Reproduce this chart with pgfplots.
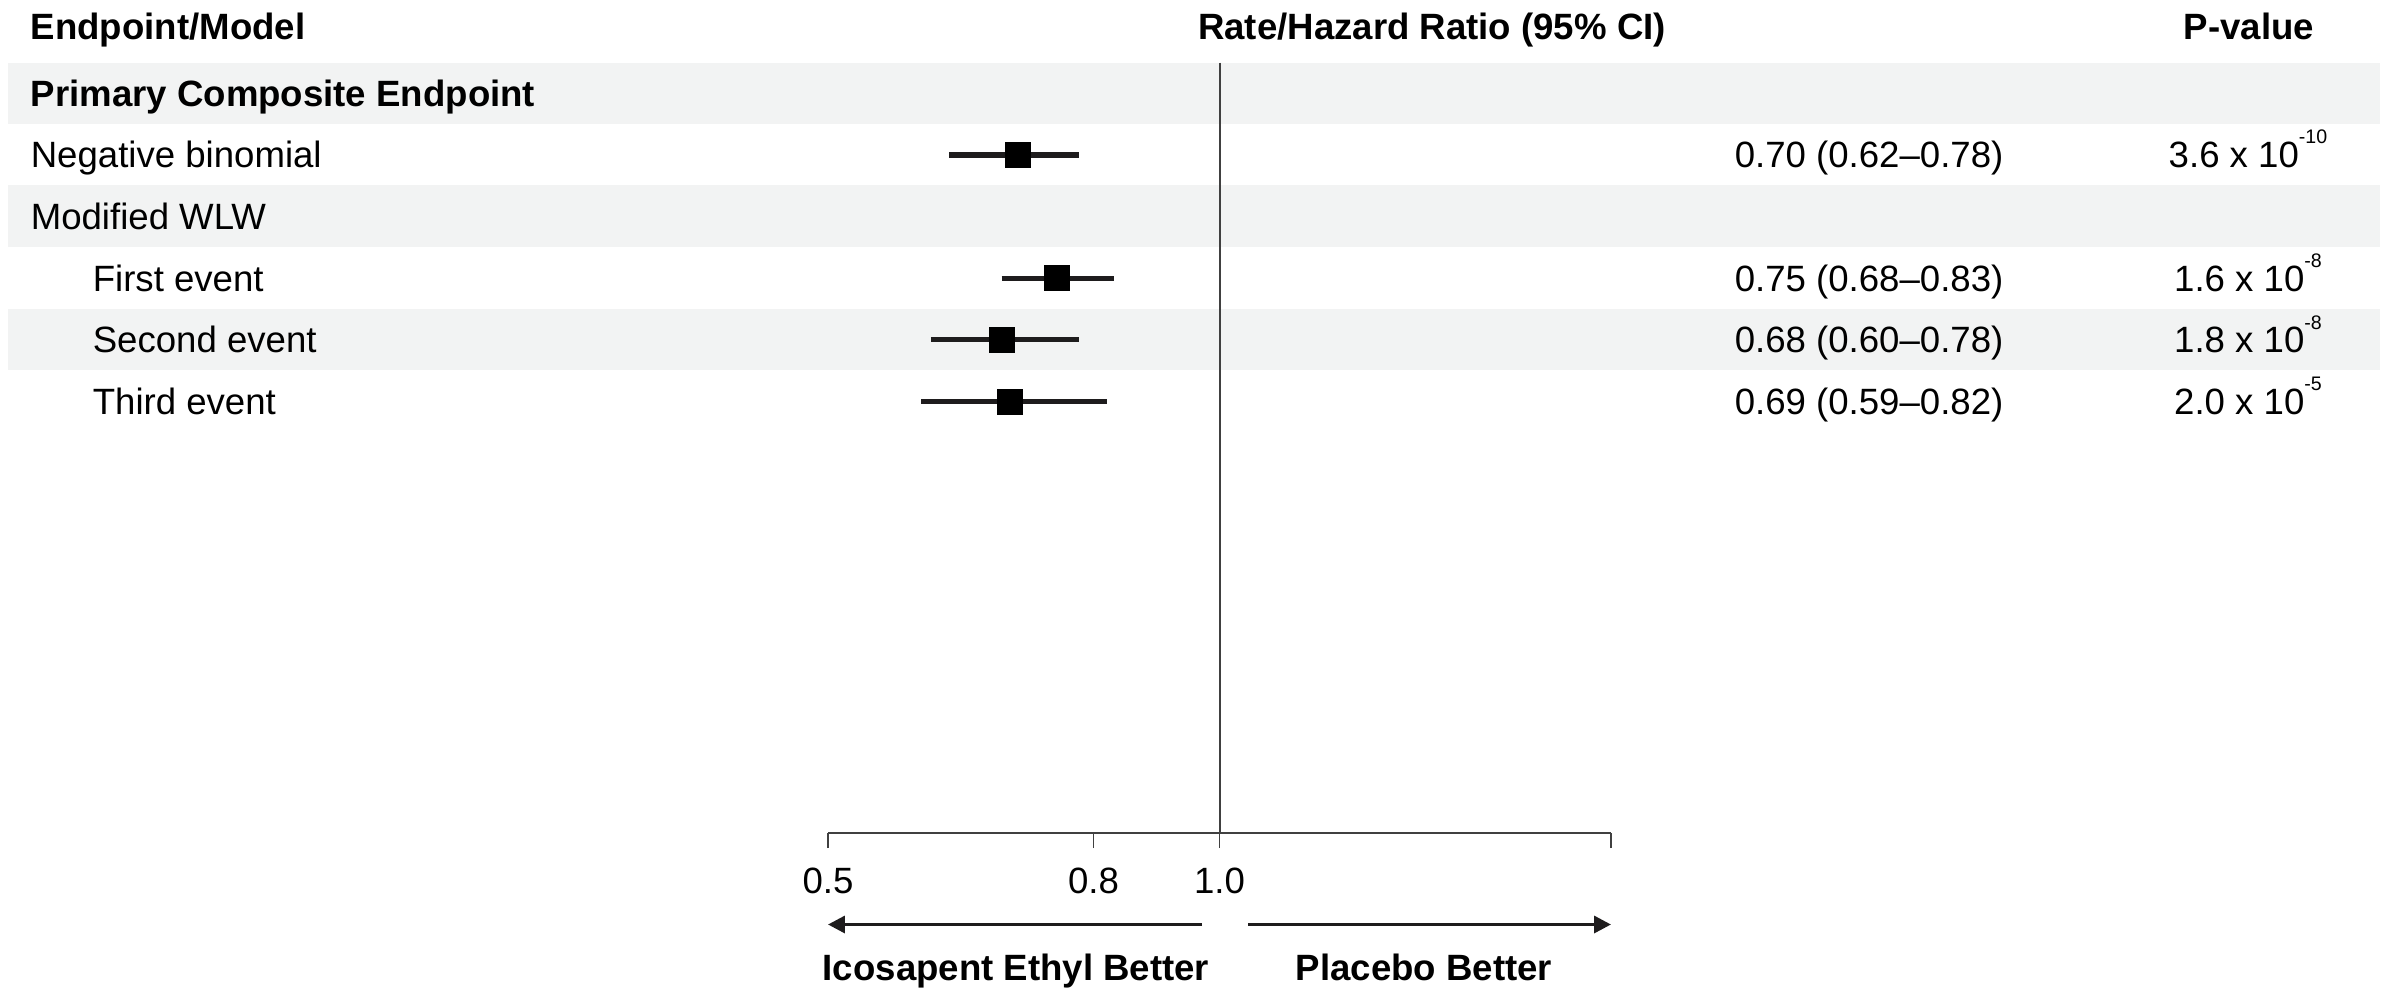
\documentclass[border=0pt]{standalone}
\usepackage{fontspec}
\setmainfont{Liberation Sans}
\usepackage{pgfplots}
\pgfplotsset{compat=1.18}
\usetikzlibrary{arrows.meta}
\definecolor{band}{HTML}{F2F3F3}
\definecolor{ciline}{HTML}{1E1C1D}
\newcommand{\fs}{\fontsize{9.15pt}{11pt}\selectfont}
\newcommand{\ex}[1]{\raisebox{5.9pt}{\fontsize{4.9pt}{6pt}\selectfont #1}}
\begin{document}
\begin{tikzpicture}
\begin{scope}[x=0.25pt,y=-0.25pt]
\useasboundingbox (0,0) rectangle (2392,987);
\fill[band] (8,62.5) rectangle (2380,124.1);
\fill[band] (8,185.4) rectangle (2380,247.1);
\fill[band] (8,308.7) rectangle (2380,370.4);
% headers
\node[anchor=base west,inner sep=0,font=\fs\bfseries] at (30,39) {Endpoint/Model};
\node[anchor=base,inner sep=0,font=\fs\bfseries] at (1432,39) {Rate/Hazard Ratio (95\% CI)};
\node[anchor=base,inner sep=0,font=\fs\bfseries] at (2249,39) {P-value};
% row labels
\node[anchor=base west,inner sep=0,font=\fs\bfseries] at (30,106.3) {Primary Composite Endpoint};
\node[anchor=base west,inner sep=0,font=\fs] at (30,167.5) {Negative binomial};
\node[anchor=base west,inner sep=0,font=\fs] at (30,229.6) {Modified WLW};
\node[anchor=base west,inner sep=0,font=\fs] at (92,291.3) {First event};
\node[anchor=base west,inner sep=0,font=\fs] at (92,352.9) {Second event};
\node[anchor=base west,inner sep=0,font=\fs] at (92,414.5) {Third event};
% CI text
\node[anchor=base west,inner sep=0,font=\fs] at (1734,167.5) {0.70 (0.62--0.78)};
\node[anchor=base west,inner sep=0,font=\fs] at (1734,291.3) {0.75 (0.68--0.83)};
\node[anchor=base west,inner sep=0,font=\fs] at (1734,352.9) {0.68 (0.60--0.78)};
\node[anchor=base west,inner sep=0,font=\fs] at (1734,414.5) {0.69 (0.59--0.82)};
% p-values
\node[anchor=base,inner sep=0,font=\fs] at (2248,167.5) {3.6 x 10\ex{-10}};
\node[anchor=base,inner sep=0,font=\fs] at (2248,291.3) {1.6 x 10\ex{-8}};
\node[anchor=base,inner sep=0,font=\fs] at (2248,352.9) {1.8 x 10\ex{-8}};
\node[anchor=base,inner sep=0,font=\fs] at (2248,414.5) {2.0 x 10\ex{-5}};
% arrows
\draw[ciline,line width=0.85pt,-{Triangle[length=4.2pt,width=4.2pt]}] (1202,924.5) -- (828,924.5);
\draw[ciline,line width=0.85pt,-{Triangle[length=4.2pt,width=4.2pt]}] (1248,924.5) -- (1611,924.5);
\node[anchor=base,inner sep=0,font=\fs\bfseries] at (1016,980) {Icosapent Ethyl Better};
\node[anchor=base,inner sep=0,font=\fs\bfseries] at (1424,980) {Placebo Better};
\end{scope}
\begin{axis}[
  at={(207pt,-208.25pt)}, anchor=south west,
  scale only axis, width=195.75pt, height=192.625pt,
  xmode=log, xmin=0.5, xmax=2, ymin=-12, ymax=0.5,
  axis x line=bottom, axis y line=none,
  x axis line style={-, draw=black!75, line width=0.45pt},
  xtick={0.5,0.8,1,2}, xticklabels={0.5,0.8,1.0,{}},
  xminorticks=false,
  tick align=outside, major tick length=3.75pt,
  xtick style={draw=black!75, line width=0.45pt},
  xticklabel style={font=\fs, yshift=-1.5pt},
  clip=false,
]
\draw[black!75, line width=0.5pt] (axis cs:1,0.5) -- (axis cs:1,-12);
\addplot[ciline, line width=1.3pt] coordinates {(0.62,-1) (0.78,-1)};
\addplot[ciline, line width=1.3pt] coordinates {(0.68,-3) (0.83,-3)};
\addplot[ciline, line width=1.3pt] coordinates {(0.60,-4) (0.78,-4)};
\addplot[ciline, line width=1.3pt] coordinates {(0.59,-5) (0.82,-5)};
\addplot[only marks, mark=square*, mark size=3.05pt,
  mark options={fill=black, draw=black, rounded corners=1pt}]
  coordinates {(0.70,-1) (0.75,-3) (0.68,-4) (0.69,-5)};
\end{axis}
\end{tikzpicture}
\end{document}
